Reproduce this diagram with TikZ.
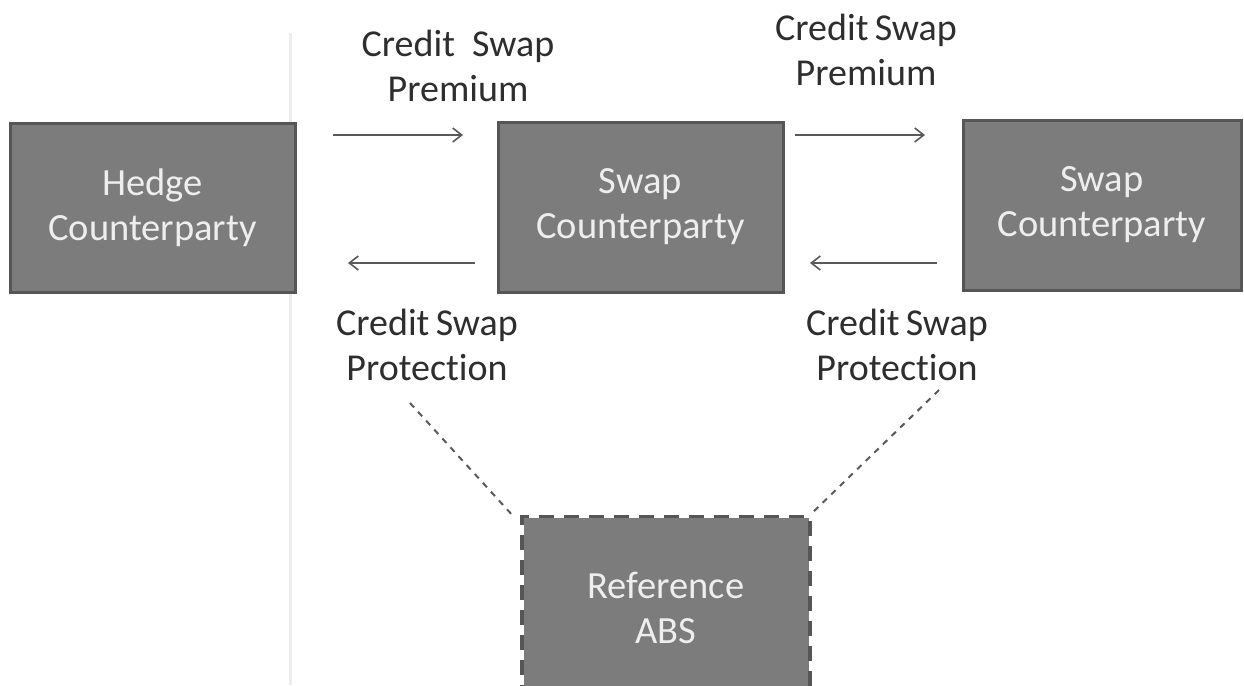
\documentclass[tikz,border=0pt]{standalone}
\usepackage{fontspec}
\setmainfont{Carlito}[RawFeature={-liga;-dlig}]
\usetikzlibrary{arrows.meta}
\definecolor{boxfill}{HTML}{7C7C7C}
\definecolor{boxline}{HTML}{565656}
\definecolor{boxtext}{HTML}{EEEEEE}
\definecolor{labeltext}{HTML}{2E2E2E}
\definecolor{arrowcol}{HTML}{5A5A5A}
\definecolor{foldcol}{HTML}{EEEBF3}
\begin{document}
\begin{tikzpicture}[x=1pt,y=-1pt,
  partybox/.style={draw=boxline, line width=3pt, fill=boxfill, text=boxtext,
    align=center, inner sep=0pt, font=\fontsize{38.5}{45}\selectfont},
  flowlabel/.style={text=labeltext, align=center, inner sep=0pt,
    font=\fontsize{38}{45}\selectfont},
  flowarrow/.style={draw=arrowcol, line width=2pt,
    -{Straight Barb[length=9pt,width=14pt,line width=1.6pt]}},
  refline/.style={draw=arrowcol, line width=2pt, dash pattern=on 6pt off 6pt}]
\useasboundingbox (0,0) rectangle (1244,685);
\clip (0,0) rectangle (1244,685);
\fill[white] (0,0) rectangle (1244,685);
% faint page fold
\draw[foldcol, line width=3pt] (290,33) -- (290,685);
% boxes
\node[partybox, minimum width=285pt, minimum height=169pt] (hedge) at (152.5,207.5) {Hedge\\Counterparty};
\node[partybox, minimum width=285pt, minimum height=170pt] (swapA) at (640.5,207) {Swap\\Counterparty};
\node[partybox, minimum width=278pt, minimum height=170pt] (swapB) at (1102,205) {Swap\\Counterparty};
\node[partybox, draw=none, minimum width=285pt, minimum height=180pt] (refabs) at (666,608) {Reference\\ABS};
\draw[boxline, line width=3.5pt, dash pattern=on 15pt off 10pt]
  (refabs.south west) -- (refabs.north west) -- (refabs.north east) -- (refabs.south east);
% labels
\node[flowlabel] (premA) at (458,66) {Credit\ \ Swap\\Premium};
\node[flowlabel] (premB) at (866,50) {Credit\,Swap\\Premium};
\node[flowlabel] (protA) at (427,345) {Credit\,Swap\\Protection};
\node[flowlabel] (protB) at (897,345) {Credit\,Swap\\Protection};
% arrow end points
\coordinate (a1s) at (333,135); \coordinate (a1e) at (463,135);
\coordinate (a2s) at (475,263); \coordinate (a2e) at (348,263);
\coordinate (a3s) at (795,135); \coordinate (a3e) at (925,135);
\coordinate (a4s) at (937,263); \coordinate (a4e) at (810,263);
\draw[flowarrow] (a1s) -- (a1e);
\draw[flowarrow] (a2s) -- (a2e);
\draw[flowarrow] (a3s) -- (a3e);
\draw[flowarrow] (a4s) -- (a4e);
% dashed reference lines
\coordinate (d1s) at (410,403); \coordinate (d1e) at (514,517);
\coordinate (d2s) at (939,390); \coordinate (d2e) at (811,514);
\draw[refline] (d1s) -- (d1e);
\draw[refline] (d2s) -- (d2e);
\end{tikzpicture}
\end{document}
